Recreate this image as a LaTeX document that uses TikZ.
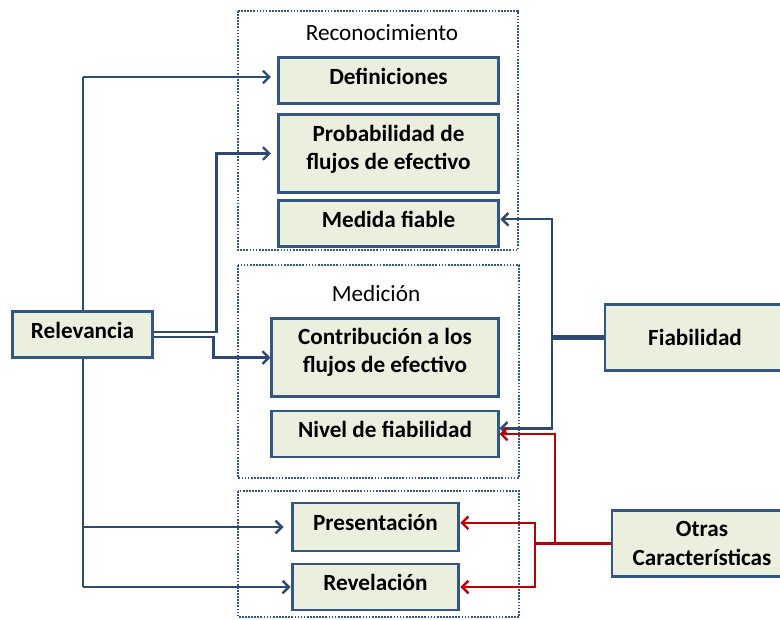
\documentclass[tikz,border=0pt]{standalone}
\usepackage{fontspec}
\setmainfont{Carlito}
\usetikzlibrary{arrows.meta}
\definecolor{lineblue}{RGB}{46,74,116}
\definecolor{boxblue}{RGB}{52,86,132}
\definecolor{boxfill}{RGB}{235,240,222}
\definecolor{linered}{RGB}{192,0,0}

\begin{document}
\begin{tikzpicture}[x=0.025cm,y=-0.025cm]
\tikzset{
	item/.style={draw=boxblue,
		line width=2.1pt,
		fill=boxfill,
		align=center,
		inner sep=0pt,
		font=\fontsize{16.5}{20}\selectfont\bfseries,
		minimum width=5.52cm,
		minimum height=1.17cm},
	oneline/.style={text height=11pt, text depth=5.5pt}, % lifts the text a little
	frame/.style={draw=boxblue, line width=1.4pt, dash pattern=on 1.2pt off 1pt},
	grouplbl/.style={font=\fontsize{16.5}{18}\selectfont},
	link/.style={draw=lineblue, line width=1.7pt, -{Straight Barb[length=4.5pt,width=9pt]}},
	redlink/.style={draw=linered, line width=1.7pt, -{Straight Barb[length=4.5pt,width=9pt]}}
}
\useasboundingbox (0,0) rectangle (780,619);

% dotted groups
\draw[frame] (238,11) rectangle (518,250);
\draw[frame] (238,265) rectangle (519,478);
\draw[frame] (238,491) rectangle (519,617);
\node[grouplbl] (RECLBL) at (382,33) {Reconocimiento};
\node[grouplbl] (MEDLBL) at (376,294) {Medición};

% left trunk (behind the box)
\coordinate (TRUNKTOP) at (83,77);
\coordinate (TRUNKBOT) at (83,587);
\draw[lineblue, line width=1.7pt] (TRUNKTOP) -- (TRUNKBOT);

\node[item, oneline] (DEFN) at (388.5,80.5) {Definiciones};
\node[item, minimum height=1.97cm] (PROB) at (388.5,153.5) {};
\node[font=\fontsize{16.5}{20}\selectfont\bfseries, align=center] (PROBTXT) at (388.5,149) {Probabilidad de\\flujos de efectivo};
\node[item, oneline] (MEDF) at (388.5,223.5) {Medida fiable};
\node[item, minimum width=5.65cm, minimum height=1.97cm] (CONT) at (385,357.5) {};
\node[font=\fontsize{16.5}{20}\selectfont\bfseries, align=center] (CONTTXT) at (385,352) {Contribución a los\\flujos de efectivo};
\node[item, oneline, minimum width=5.65cm, minimum height=1.15cm] (NIVF) at (385,434) {Nivel de fiabilidad};
\node[item, oneline, minimum width=4.17cm, minimum height=1.2cm] (PRES) at (375.5,527) {Presentación};
\node[item, oneline, minimum width=4.17cm, minimum height=1.15cm] (REVL) at (375.5,587) {Revelación};
\node[item, oneline, minimum width=3.52cm, minimum height=1.17cm] (RELV) at (82.5,334.5) {Relevancia};
\node[item, minimum width=4.5cm, minimum height=1.67cm] (FIAB) at (695,337.5) {Fiabilidad};
\node[item, minimum width=4.5cm, minimum height=1.67cm] (OTRA) at (702,543.5) {Otras\\Características};

% Relevancia
{\draw[link, shorten >=4pt] (TRUNKTOP) -- (DEFN.west |- TRUNKTOP);}
{\draw[link, shorten >=5pt] (TRUNKBOT |- PRES) -- (PRES.west);}
{\draw[link] (TRUNKBOT) -- (REVL.west |- TRUNKBOT);}
{\draw[link, shorten >=4pt] ([yshift=1.6pt]RELV.east) -- ++(62,0) |- (PROB.west);}
{\draw[link] ([yshift=-1.6pt]RELV.east) -- ++(59,0) |- (CONT.west);}

% Fiabilidad
\coordinate (FIABJ) at (552,337.5);
{\draw[lineblue, line width=3.2pt] (FIAB.west) -- (FIABJ);}
{\draw[link] (FIABJ) |- ([yshift=3pt]MEDF.east);}
{\draw[link] (FIABJ) |- ([yshift=4pt]NIVF.east);}

% Otras caracteristicas
\coordinate (OTRAJ) at (535,543.5);
\coordinate (OTRAUP) at (555,543.5);
{\draw[linered, line width=2.2pt] (OTRA.west) -- (OTRAJ);}
{\draw[redlink] (OTRAUP) |- (NIVF.east);}
{\draw[redlink] (OTRAJ) |- ([yshift=3pt]PRES.east);}
{\draw[redlink] (OTRAJ) |- (REVL.east);}

\end{tikzpicture}
\end{document}
